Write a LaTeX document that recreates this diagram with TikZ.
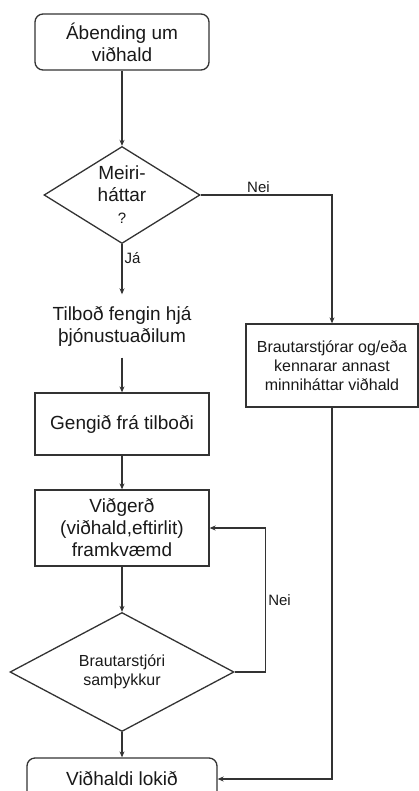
\documentclass[tikz,border=0pt]{standalone}
\usepackage{fontspec}
\setmainfont{Liberation Sans}
\usetikzlibrary{shapes.geometric,arrows.meta}

\begin{document}
\begin{tikzpicture}[x=1pt, y=-1pt,
  every node/.style = {align=center, text=black!90},
  big/.style = {font=\fontsize{19}{22}\selectfont},
  small/.style = {font=\fontsize{16}{19}\selectfont},
  box/.style = {big, shape=rectangle, draw=black!80, line width=1.3pt,
    minimum width=174pt, inner sep=0pt},
  startstop/.style = {box, rounded corners=8pt},
  decision/.style = {shape=diamond, draw=black!80, line width=1.3pt, inner sep=0pt},
  answer/.style = {font=\fontsize{15}{18}\selectfont, inner sep=2pt},
  flow/.style = {draw=black!80, line width=1.3pt, -{Stealth[length=6pt,width=5pt]}}]
  \useasboundingbox (0,0) rectangle (419,791);
  \clip (0,0) rectangle (419,791);

  \node[startstop, minimum height=56pt] (tip) at (122,42) {Ábending um\\viðhald};
  \node[decision, big, minimum width=156pt, minimum height=97pt, aspect=1.6]
    (major) at (122,195) {Meiri-\\háttar\\{\fontsize{15}{17}\selectfont ?}};
  \node[big, minimum height=63pt, inner sep=0pt] (offers) at (122,326)
    {Tilboð fengin hjá\\þjónustuaðilum};
  \node[box, minimum height=62pt] (accept) at (122,424) {Gengið frá tilboði};
  \node[box, minimum height=76pt] (repair) at (122,528)
    {Viðgerð\\(viðhald,eftirlit)\\framkvæmd};
  \node[decision, small, minimum width=224pt, minimum height=119pt, aspect=1.88]
    (approve) at (122,672) {Brautarstjóri\\samþykkur};
  \node[startstop, minimum width=190pt, minimum height=42pt] (done) at (122,779)
    {Viðhaldi lokið};
  \node[box, small, minimum width=172pt, minimum height=83pt] (minor) at (332,365.5)
    {Brautarstjórar og/eða\\kennarar annast\\minniháttar viðhald};

  \draw[flow] (tip) -- (major);
  \draw[flow] (major) -- node[answer, right, pos=0.27] {Já} (offers);
  \draw[flow] (offers) -- (accept);
  \draw[flow] (accept) -- (repair);
  \draw[flow] (repair) -- (approve);
  \draw[flow] (approve) -- (done);
  \draw[flow] (major.east) -| node[answer, above, pos=0.22] {Nei} (minor.north);
  \draw[flow] (approve.east) -- ++(31,0) |- node[answer, right, pos=0.25] {Nei} (repair.east);
  \draw[flow] (minor.south) |- (done.east);
\end{tikzpicture}
\end{document}
